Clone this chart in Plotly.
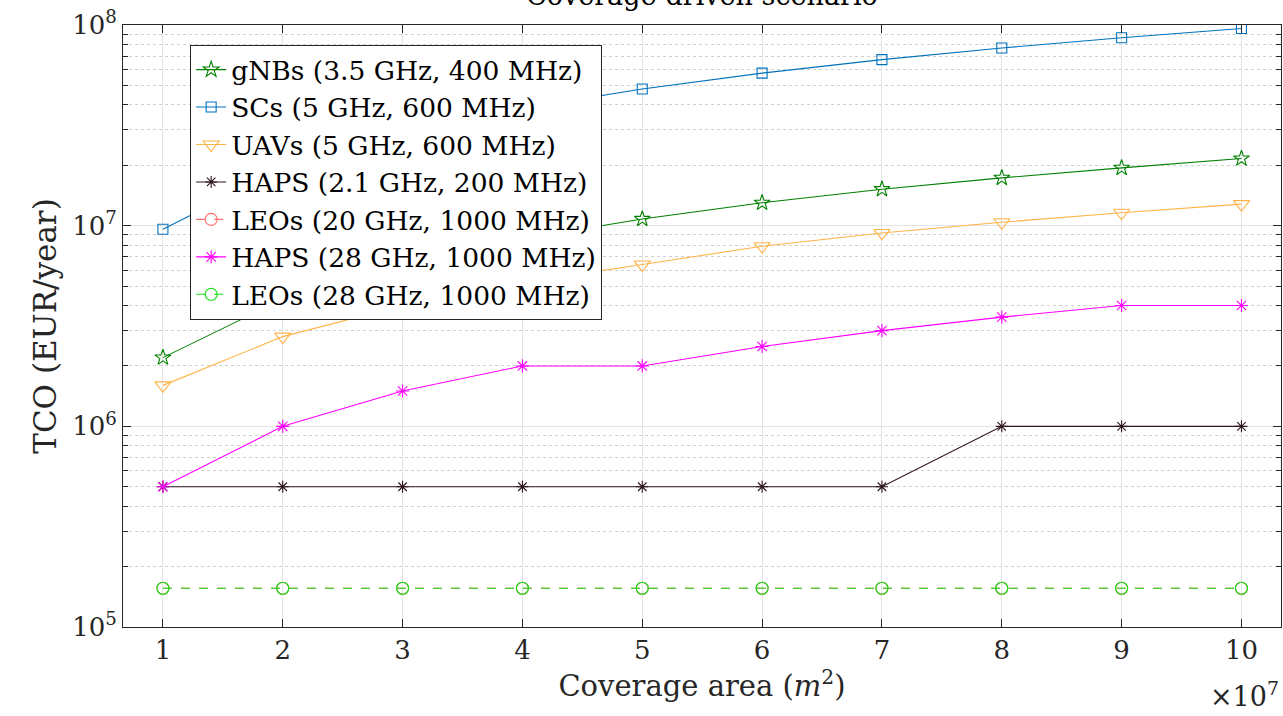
import plotly.graph_objects as go

# Coverage area in units of 1e7 m^2
area = [1, 2, 3, 4, 5, 6, 7, 8, 9, 10]

# Total cost of ownership (EUR/year) per deployment option
tco_gnb = [2.2e6, 4.3e6, 6.5e6, 8.6e6, 1.08e7, 1.30e7, 1.52e7, 1.73e7, 1.94e7, 2.16e7]
tco_sc = [9.6e6, 1.92e7, 2.88e7, 3.84e7, 4.8e7, 5.76e7, 6.72e7, 7.68e7, 8.64e7, 9.6e7]
tco_uav = [1.6e6, 2.8e6, 4.0e6, 5.2e6, 6.4e6, 7.9e6, 9.2e6, 1.04e7, 1.16e7, 1.28e7]
tco_haps_21 = [5e5, 5e5, 5e5, 5e5, 5e5, 5e5, 5e5, 1e6, 1e6, 1e6]
tco_leo_20 = [1.56e5] * 10
tco_haps_28 = [5e5, 1e6, 1.5e6, 2e6, 2e6, 2.5e6, 3e6, 3.5e6, 4e6, 4e6]
tco_leo_28 = [1.56e5] * 10

series_names = [
    "gNBs (3.5 GHz, 400 MHz)",
    "SCs (5 GHz, 600 MHz)",
    "UAVs (5 GHz, 600 MHz)",
    "HAPS (2.1 GHz, 200 MHz)",
    "LEOs (20 GHz, 1000 MHz)",
    "HAPS (28 GHz, 1000 MHz)",
    "LEOs (28 GHz, 1000 MHz)",
]

y_tickvals = [1e5, 1e6, 1e7, 1e8]
y_ticktext = ["10<sup>5</sup>", "10<sup>6</sup>", "10<sup>7</sup>", "10<sup>8</sup>"]
x_ticktext = [str(v) for v in area]

FONT = "DejaVu Serif"

styles = [
    dict(color="#008000", symbol="star-open", size=12, dash="solid"),
    dict(color="#0072BD", symbol="square-open", size=10, dash="solid"),
    dict(color="#FFB347", symbol="triangle-down-open", size=14, dash="solid"),
    dict(color="#2E1420", symbol="asterisk-open", size=10, dash="solid"),
    dict(color="#FF6F6F", symbol="circle-open", size=12, dash="dash"),
    dict(color="#FF00FF", symbol="asterisk-open", size=11, dash="solid"),
    dict(color="#11E011", symbol="circle-open", size=12, dash="dash"),
]

data = [tco_gnb, tco_sc, tco_uav, tco_haps_21, tco_leo_20, tco_haps_28, tco_leo_28]

fig = go.Figure()
for name, ys, st in zip(series_names, data, styles):
    fig.add_trace(go.Scatter(
        x=area, y=ys, name=name, mode="lines+markers",
        line=dict(color=st["color"], width=1.1, dash=st["dash"]),
        marker=dict(symbol=st["symbol"], size=st["size"], color=st["color"],
                    line=dict(color=st["color"], width=1.1)),
    ))

axis_color = "#262626"
grid_color = "#E3E3E3"

fig.update_layout(
    width=1283, height=716,
    margin=dict(l=123, r=2, t=25, b=89),
    paper_bgcolor="white", plot_bgcolor="white",
    font=dict(family=FONT, color="#262626"),
    showlegend=True,
    legend=dict(
        x=0.058, y=0.967, xanchor="left", yanchor="top",
        bgcolor="white", bordercolor="#262626", borderwidth=1,
        font=dict(family=FONT, size=26.5, color="#000000"),
        itemwidth=30, tracegroupgap=0,
    ),
    xaxis=dict(
        range=[0.667, 10.33],
        tickvals=area, ticktext=x_ticktext,
        ticks="inside", ticklen=8, tickcolor=axis_color,
        showline=True, linecolor=axis_color, linewidth=1, mirror="allticks",
        showgrid=True, gridcolor=grid_color, gridwidth=1,
        zeroline=False,
        tickfont=dict(family=FONT, size=26, color="#262626"),
        title=dict(text="Coverage area (<i>m</i><sup>2</sup>)",
                   font=dict(family=FONT, size=29, color="#262626"), standoff=8),
    ),
    yaxis=dict(
        type="log", range=[5, 8],
        tickvals=y_tickvals, ticktext=y_ticktext,
        ticks="inside", ticklen=8, tickcolor=axis_color,
        showline=True, linecolor=axis_color, linewidth=1, mirror="allticks",
        showgrid=True, gridcolor=grid_color, gridwidth=1,
        zeroline=False,
        minor=dict(ticks="inside", ticklen=5, tickcolor=axis_color,
                   showgrid=True, gridcolor="#D0D0D0", griddash="dot",
                   dtick="D1"),
        tickfont=dict(family=FONT, size=26, color="#262626"),
        title=dict(text="TCO (EUR/year)",
                   font=dict(family=FONT, size=31, color="#262626"), standoff=6),
    ),
)

fig.add_annotation(
    text="Coverage-driven scenario", xref="paper", yref="paper",
    x=0.5, y=1, xanchor="center", yanchor="bottom", yshift=12,
    showarrow=False, font=dict(family=FONT, size=27, color="#000000"),
)
fig.add_annotation(
    text="×10<sup>7</sup>", xref="paper", yref="paper",
    x=1, y=0, xanchor="right", yanchor="top", yshift=-48, xshift=0,
    showarrow=False, font=dict(family=FONT, size=27, color="#262626"),
)

fig.write_html("out.html")
